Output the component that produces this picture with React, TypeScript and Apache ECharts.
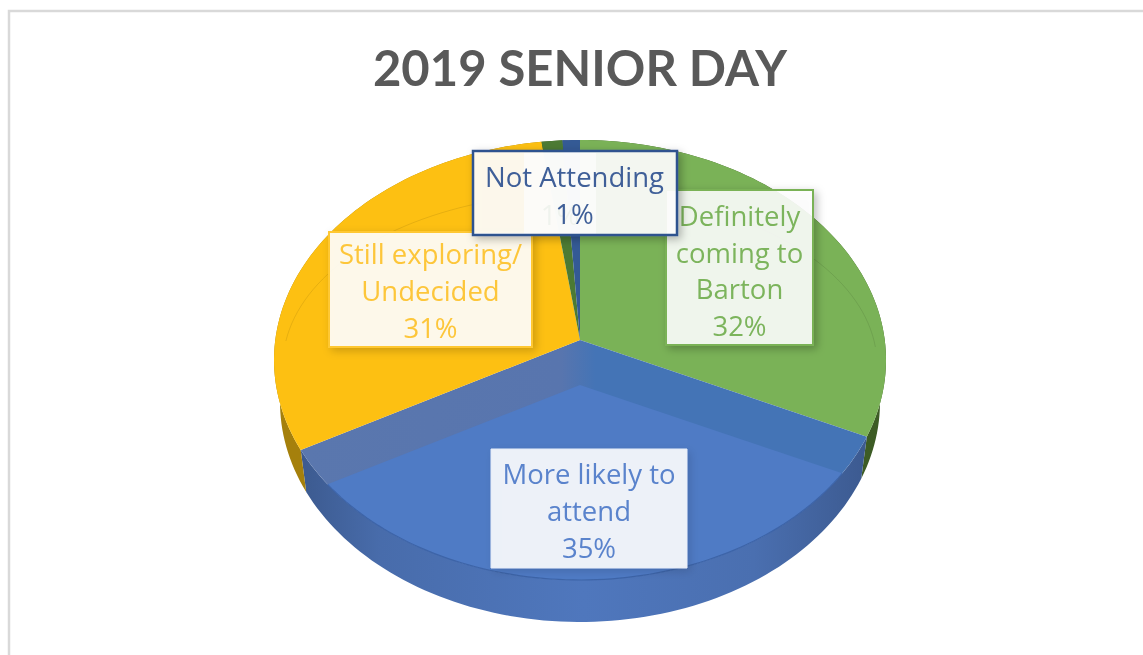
import React, { useEffect, useRef } from "react";
import * as echarts from "echarts";

const titleText = "2019 SENIOR DAY";
const sliceNames = ["Definitely\ncoming to\nBarton", "More likely to\nattend", "Still exploring/\nUndecided", "Other", "Not Attending"];
const sliceValues = [32, 35, 30.8, 1.2, 1.0];
const percentLabels = ["32%", "35%", "31%", "1%", "1%"];
const topColors = ["#7ab257", "#4f7bc5", "#fdc012", "#4c7a33", "#345a95"];
const wallColors = ["#3d5c25", "#4f76bb", "#a5800c", "#3d5c25", "#2f4f85"];

// projection of the tilted pie
const CX = 580, CY = 360, RX = 306, RY = 220, APEX_SHIFT = 20, DEPTH = 42, BOTTOM_RX = 300, SINK = 45;
const P = APEX_SHIFT / RY;
const A = RX * Math.sqrt(1 - P * P);
const total = sliceValues.reduce((s, v) => s + v, 0);
const startOf = (i: number) => (sliceValues.slice(0, i).reduce((s, v) => s + v, 0) / total) * 360;

function project(deg: number) {
  const t = (deg * Math.PI) / 180;
  const u = Math.sin(t), v = Math.cos(t);
  const den = 1 + P * v;
  return [A * u / den, (RY * v + APEX_SHIFT) / den];
}
const topPt = (deg: number) => { const [x, y] = project(deg); return [CX + x, CY - y]; };
const botPt = (deg: number) => { const [x, y] = project(deg); return [CX + x * BOTTOM_RX / RX, CY - y + DEPTH]; };
const apex = () => [CX, CY - APEX_SHIFT];

function arcAngles(a: number, b: number) {
  const out: number[] = [];
  const n = Math.max(2, Math.ceil((b - a) / 1.5));
  for (let k = 0; k <= n; k++) out.push(a + ((b - a) * k) / n);
  return out;
}

// where a ray from (ox,oy) in direction (dx,dy) leaves the top ellipse
function rayHit(ox: number, oy: number, dx: number, dy: number) {
  const qa = (dx * dx) / (RX * RX) + (dy * dy) / (RY * RY);
  const ex = ox - CX, ey = oy - CY;
  const qb = 2 * ((ex * dx) / (RX * RX) + (ey * dy) / (RY * RY));
  const qc = (ex * ex) / (RX * RX) + (ey * ey) / (RY * RY) - 1;
  const t = (-qb + Math.sqrt(qb * qb - 4 * qa * qc)) / (2 * qa);
  return [ox + dx * t, oy + dy * t];
}
function ellipseArc(p: number[], q: number[], steps = 80) {
  const ang = (r: number[]) => Math.atan2((r[1] - CY) / RY, (r[0] - CX) / RX);
  let a = ang(p), b = ang(q);
  if (b < a) b += Math.PI * 2;
  const out: number[][] = [];
  for (let k = 0; k <= steps; k++) {
    const f = a + ((b - a) * k) / steps;
    out.push([CX + RX * Math.cos(f), CY + RY * Math.sin(f)]);
  }
  return out;
}

function renderWall(params: any) {
  const i = params.dataIndex;
  const a = startOf(i), b = startOf(i + 1);
  const angs = arcAngles(a, b);
  const pts = [...angs.map(topPt), ...angs.slice().reverse().map(botPt)];
  let fill: any = wallColors[i];
  if (i === 1) {
    fill = new echarts.graphic.LinearGradient(0, 0, 1, 0, [
      { offset: 0, color: "#3c5a8f" },
      { offset: 0.14, color: "#486cab" },
      { offset: 0.5, color: "#4f77bd" },
      { offset: 0.8, color: "#4a6fb0" },
      { offset: 1, color: "#3c5a90" },
    ]);
  }
  return { type: "polygon", shape: { points: pts }, style: { fill } };
}

function renderTop(params: any) {
  const i = params.dataIndex;
  const a = startOf(i), b = startOf(i + 1);
  const ap = apex();
  const pts = [ap, ...arcAngles(a, b).map(topPt)];
  const children: any[] = [];
  if (i !== 1) {
    children.push({ type: "polygon", shape: { points: pts }, style: { fill: topColors[i] } });
  } else {
    // blue slice: a sunken face with a darker back wall
    children.push({
      type: "polygon",
      shape: { points: pts },
      style: {
        fill: new echarts.graphic.LinearGradient(0, 0, 1, 0, [
          { offset: 0, color: "#5a77ae" },
          { offset: 0.46, color: "#5875ae" },
          { offset: 0.52, color: "#4474b6" },
          { offset: 1, color: "#4474b6" },
        ]),
      },
    });
    const e1 = topPt(a), e2 = topPt(b);
    const ax = ap[0], ay = ap[1] + SINK;
    const h1 = rayHit(ax, ay, e1[0] - ap[0], e1[1] - ap[1]);
    const h2 = rayHit(ax, ay, e2[0] - ap[0], e2[1] - ap[1]);
    const arc = ellipseArc(h1, h2);
    children.push({ type: "polygon", shape: { points: [[ax, ay], ...arc] }, style: { fill: topColors[1] } });
    children.push({ type: "polyline", shape: { points: arc }, style: { fill: "none", stroke: "#3d64a8", lineWidth: 1.2 } });
  }
  return { type: "group", children };
}

const labelBoxes = [
  { x: 666, y: 190, w: 147, h: 155, stroke: "#7ab257", color: "#7cb45c", lw: 2, alpha: 0.88, shadow: 0.28, index: 0, dx: 0, dy: 3 },
  { x: 491, y: 449, w: 196, h: 119, stroke: "#e6ecf7", color: "#5a83cc", lw: 1, alpha: 0.89, shadow: 0.14, index: 1, dx: 0, dy: 2 },
  { x: 329, y: 232, w: 203, h: 115, stroke: "#ffc833", color: "#fdc63a", lw: 2, alpha: 0.9, shadow: 0.2, index: 2, dx: 0, dy: 1 },
  { x: 524, y: 153, w: 72, h: 82, stroke: "rgba(255,255,255,0)", color: "#4c7a33", lw: 0, alpha: 0.75, shadow: 0, index: 3, dx: 0, dy: 20 },
  { x: 473, y: 151, w: 204, h: 84, stroke: "#2f528f", color: "#3f5f98", lw: 2.5, alpha: 0.9, shadow: 0.3, index: 4, dx: -0.5, dy: 2 },
];

const bevelArcs = [
  { from: 188, to: 250 },
  { from: 300, to: 354 },
];

export default function App() {
  const ref = useRef<HTMLDivElement>(null);
  useEffect(() => {
    const chart = echarts.init(ref.current!, undefined, { renderer: "svg" });
    const bevel = bevelArcs.map((b) => {
      const pts: number[][] = [];
      for (let d = b.from; d <= b.to; d += 2) {
        const t = (d * Math.PI) / 180;
        pts.push([CX + 297 * Math.cos(t), 365 + 172 * Math.sin(t)]);
      }
      return { type: "polyline", z: 5, shape: { points: pts }, style: { fill: "none", stroke: "rgba(0,0,0,0.09)", lineWidth: 1 } };
    });
    const labels: any[] = [];
    labelBoxes.forEach((b, n) => {
      labels.push({
        type: "rect", z: 10 + n * 2,
        shape: { x: b.x, y: b.y, width: b.w, height: b.h },
        style: {
          fill: `rgba(255,255,255,${b.alpha})`, stroke: b.stroke, lineWidth: b.lw,
          shadowBlur: 9, shadowColor: `rgba(0,0,0,${b.shadow})`, shadowOffsetX: 3, shadowOffsetY: 3,
        },
      });
      const hidden = b.index === 3;
      labels.push({
        type: "text", z: 11 + n * 2,
        x: hidden ? b.x + 36 : b.x + b.w / 2 + b.dx, y: b.y + b.h / 2 + b.dy,
        style: {
          text: hidden ? percentLabels[b.index] : sliceNames[b.index] + "\n" + percentLabels[b.index],
          align: "center", verticalAlign: "middle",
          fill: b.color, font: "400 27.5px 'Open Sans', sans-serif", lineHeight: 36.7,
        },
      });
    });
    chart.setOption({
      animation: false,
      backgroundColor: "#ffffff",
      title: {
        text: titleText, left: 575, top: 37, textAlign: "center",
        textStyle: { color: "#595959", fontFamily: "Lato, sans-serif", fontWeight: "bold", fontSize: 49 },
      },
      graphic: [
        { type: "polyline", z: 1, shape: { points: [[9, 655], [9, 11], [1143, 11]] }, style: { fill: "none", stroke: "#d9d9d9", lineWidth: 2.5 } },
        ...bevel,
        ...labels,
      ],
      series: [
        { type: "custom", coordinateSystem: "none", z: 2, renderItem: renderWall, data: sliceValues, silent: true },
        { type: "custom", coordinateSystem: "none", z: 3, renderItem: renderTop, data: sliceValues, silent: true },
      ],
    });
    return () => chart.dispose();
  }, []);
  return <div ref={ref} style={{ position: "fixed", left: 0, top: 0, width: 1143, height: 655, filter: "blur(0.5px)" }} />;
}
